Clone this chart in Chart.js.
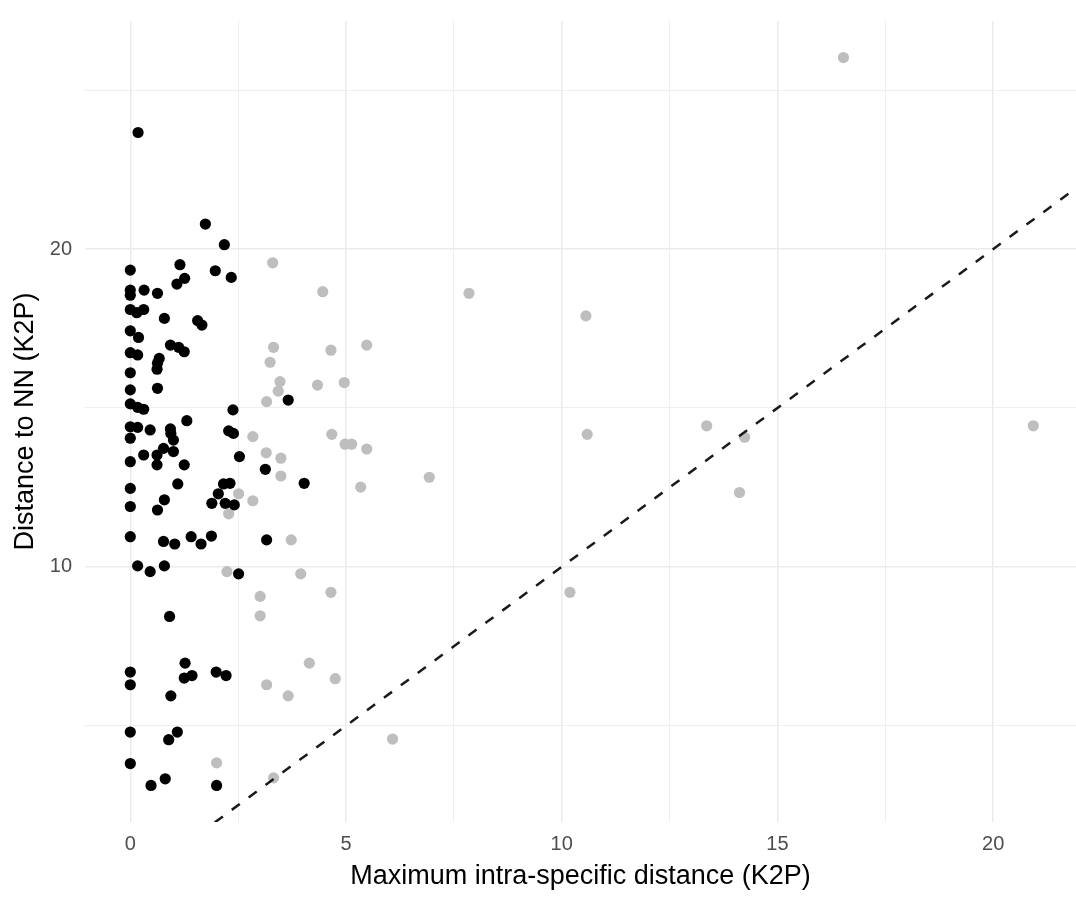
<!DOCTYPE html>
<html>
<head>
<meta charset="utf-8">
<script src="https://cdn.jsdelivr.net/npm/chart.js@4/dist/chart.umd.min.js"></script>
<style>
  html, body { margin: 0; padding: 0; background: #fff; }
  #wrap { width: 1076px; height: 904px; position: relative; }
</style>
</head>
<body>
<div id="wrap"><canvas id="chart"></canvas></div>
<script>
// Species with max intra-specific distance below the NN distance (black)
const blackX = [0.18, 1.74, 2.18, 0, 1.15, 1.97, 2.34, 1.26, 1.08, 0, 0, 0.32, 0.63, 0, 0.15, 0.31, 0.79, 1.56, 1.66, 0, 0.19,
  0.93, 1.12, 1.25, 0, 0.17, 0.67, 0.63, 0.62, 0, 0, 0.63, 3.66, 0, 0.17, 0.31, 2.38, 1.31, 0, 0.17, 0.46, 0.93, 0.94, 1.0,
  2.28, 2.39, 0, 0.77, 0.62, 0.62, 1.0, 0.31, 0, 1.25, 2.53, 3.13, 4.03, 0, 1.10, 2.16, 2.31, 2.04, 1.89, 2.2, 2.41, 0,
  0.79, 0.63, 0, 0.77, 1.03, 1.41, 1.64, 1.88, 3.16, 0.17, 0.46, 0.79, 2.51, 0.91, 1.27, 1.25, 1.43, 0, 0, 1.99, 2.22,
  0.94, 0, 1.09, 0.89, 0, 0.48, 0.81, 2.0];
const blackY = [23.67, 20.79, 20.14, 19.34, 19.51, 19.32, 19.11, 19.08, 18.90, 18.71, 18.55, 18.71, 18.61, 18.10, 18.0, 18.10, 17.82, 17.75, 17.61, 17.43, 17.22,
  16.98, 16.91, 16.77, 16.74, 16.67, 16.56, 16.41, 16.22, 16.11, 15.57, 15.62, 15.25, 15.13, 15.02, 14.96, 14.94, 14.60, 14.41, 14.39, 14.31, 14.34, 14.20, 13.99,
  14.28, 14.20, 14.05, 13.73, 13.52, 13.21, 13.63, 13.52, 13.31, 13.21, 13.47, 13.07, 12.63, 12.47, 12.61, 12.61, 12.63, 12.30, 12.0, 12.0, 11.95, 11.90,
  12.11, 11.79, 10.95, 10.80, 10.72, 10.95, 10.72, 10.97, 10.85, 10.03, 9.85, 10.03, 9.78, 8.44, 6.97, 6.50, 6.58, 6.69, 6.29, 6.69, 6.58,
  5.94, 4.80, 4.80, 4.56, 3.81, 3.12, 3.33, 3.12];

// the remaining species (grey)
const greyX = [3.30, 3.32, 3.24, 3.47, 3.43, 3.16, 2.84, 3.15, 3.49, 3.49, 2.51, 2.84, 2.28, 3.73, 2.24, 3.95, 3.01, 3.01, 4.15, 3.16, 3.66, 2.0, 3.32,
  4.46, 4.65, 5.48, 4.34, 4.96, 4.67, 4.98, 5.13, 5.48, 6.93, 5.34, 4.65, 4.75, 6.08, 7.85, 10.56, 10.59, 13.36, 14.24, 14.12, 10.19, 16.53, 20.93];
const greyY = [19.57, 16.91, 16.44, 15.83, 15.53, 15.20, 14.10, 13.59, 13.42, 12.86, 12.30, 12.08, 11.67, 10.85, 9.85, 9.78, 9.07, 8.46, 6.97, 6.29, 5.94, 3.83, 3.36,
  18.66, 16.82, 16.98, 15.72, 15.80, 14.17, 13.86, 13.86, 13.71, 12.82, 12.51, 9.20, 6.48, 4.58, 18.61, 17.90, 14.17, 14.44, 14.08, 12.34, 9.20, 26.03, 14.44];

// y = x reference line
const refX = [0, 30];
const refY = [0, 30];

const xTicks = [0, 5, 10, 15, 20];
const xGrid = [0, 2.5, 5, 7.5, 10, 12.5, 15, 17.5, 20];
const yTicks = [10, 20];
const yGrid = [5, 10, 15, 20, 25];

const FONT = "'Liberation Sans', Arial, sans-serif";

const toPoints = (xs, ys) => xs.map((x, i) => ({ x: x, y: ys[i] }));

new Chart(document.getElementById('chart'), {
    type: 'scatter',
    data: {
        datasets: [
            {
                type: 'line',
                data: toPoints(refX, refY),
                borderColor: '#1a1a1a',
                borderWidth: 2.5,
                borderDash: [10, 11],
                pointRadius: 0,
                fill: false,
                order: 0
            },
            {
                data: toPoints(blackX, blackY),
                backgroundColor: '#000000',
                borderWidth: 0,
                pointRadius: 5.6,
                order: 1
            },
            {
                data: toPoints(greyX, greyY),
                backgroundColor: '#bebebe',
                borderWidth: 0,
                pointRadius: 5.6,
                order: 2
            }
        ]
    },
    options: {
        responsive: true,
        maintainAspectRatio: false,
        animation: false,
        layout: { autoPadding: false, padding: { top: 21, right: 0, bottom: 0, left: 0 } },
        plugins: { legend: { display: false }, tooltip: { enabled: false } },
        scales: {
            x: {
                type: 'linear',
                min: -1.05,
                max: 21.92,
                afterFit: s => { s.height = 82; s.paddingLeft = 0; s.paddingRight = 0; },
                afterBuildTicks: s => { s.ticks = xGrid.map(v => ({ value: v })); },
                border: { display: false },
                grid: {
                    color: '#ebebeb',
                    drawTicks: false,
                    lineWidth: c => xTicks.includes(c.tick && c.tick.value) ? 1.5 : 0.8
                },
                ticks: {
                    autoSkip: false,
                    maxRotation: 0,
                    padding: 10,
                    color: '#4d4d4d',
                    font: { family: FONT, size: 20 },
                    callback: v => xTicks.includes(v) ? String(v) : ''
                },
                title: {
                    display: true,
                    text: 'Maximum intra-specific distance (K2P)',
                    color: '#000000',
                    font: { family: FONT, size: 27 },
                    padding: { top: 0, bottom: 11 }
                }
            },
            y: {
                type: 'linear',
                min: 1.97,
                max: 27.18,
                afterFit: s => { s.width = 85; s.paddingTop = 0; s.paddingBottom = 0; },
                afterBuildTicks: s => { s.ticks = yGrid.map(v => ({ value: v })); },
                border: { display: false },
                grid: {
                    color: '#ebebeb',
                    drawTicks: false,
                    lineWidth: c => yTicks.includes(c.tick && c.tick.value) ? 1.5 : 0.8
                },
                ticks: {
                    autoSkip: false,
                    padding: 13,
                    color: '#4d4d4d',
                    font: { family: FONT, size: 20 },
                    callback: v => yTicks.includes(v) ? String(v) : ''
                },
                title: {
                    display: true,
                    text: 'Distance to NN (K2P)',
                    color: '#000000',
                    font: { family: FONT, size: 27 },
                    padding: { top: 9, bottom: 0 }
                }
            }
        }
    }
});
</script>
</body>
</html>
